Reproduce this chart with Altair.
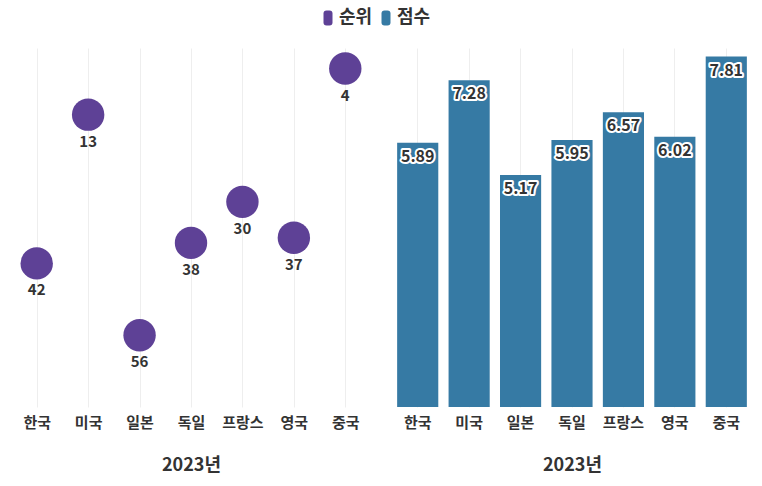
import altair as alt
import pandas as pd

categories = ["한국", "미국", "일본", "독일", "프랑스", "영국", "중국"]
rank = [42, 13, 56, 38, 30, 37, 4]
score = [5.89, 7.28, 5.17, 5.95, 6.57, 6.02, 7.81]

FONT = "Noto Sans CJK KR"
PURPLE = "#5e4196"
BLUE = "#367aa4"

df_rank = pd.DataFrame({"country": categories, "value": rank, "series": "순위"})
df_score = pd.DataFrame({"country": categories, "value": score, "series": "점수"})

RRECT = "M-0.6,-0.6Q-0.6,-1,-0.2,-1L0.2,-1Q0.6,-1,0.6,-0.6L0.6,0.6Q0.6,1,0.2,1L-0.2,1Q-0.6,1,-0.6,0.6Z"

color = alt.Color(
    "series:N",
    scale=alt.Scale(domain=["순위", "점수"], range=[PURPLE, BLUE]),
    legend=alt.Legend(title=None, orient="none", direction="horizontal",
                      legendX=308, legendY=-39,
                      symbolType=RRECT, symbolSize=225, symbolStrokeWidth=0,
                      labelFontSize=18, labelFont=FONT, labelFontWeight="bold",
                      labelColor="#333333", columnPadding=4, labelOffset=2),
)

xenc = alt.X(
    "country:N", sort=categories, title="2023년",
    scale=alt.Scale(paddingInner=0.2, paddingOuter=0.1),
    axis=alt.Axis(labelAngle=0, labelFont=FONT, labelFontSize=15, labelFontWeight="bold",
                  labelColor="#333333", labelPadding=8, ticks=False, domain=False,
                  grid=True, gridColor="#eeeeee", titleFont=FONT, titleFontSize=18,
                  titleFontWeight="bold", titleColor="#333333", titlePadding=26),
)

base_rank = alt.Chart(df_rank).encode(
    x=xenc,
    y=alt.Y("value:Q", scale=alt.Scale(domain=[0, 70], reverse=True), axis=None),
)
points = base_rank.mark_circle(size=1050, opacity=1).encode(color=color)
rank_labels = base_rank.mark_text(dy=27, font=FONT, fontSize=15, fontWeight="bold",
                                  color="#333333", baseline="middle").encode(text="value:Q")
left = alt.layer(points, rank_labels).properties(width=360, height=359)

base_score = alt.Chart(df_score).encode(
    x=xenc,
    y=alt.Y("value:Q", scale=alt.Scale(domain=[0, 8]), axis=None),
)
bars = base_score.mark_bar().encode(color=color)
halo = base_score.mark_text(dy=14, font=FONT, fontSize=16, fontWeight="bold",
                            color="#333333", stroke="white", strokeWidth=4,
                            strokeJoin="round", baseline="middle").encode(
    text=alt.Text("value:Q", format=".2f"))
score_labels = base_score.mark_text(dy=14, font=FONT, fontSize=16, fontWeight="bold",
                                    color="#333333", baseline="middle").encode(
    text=alt.Text("value:Q", format=".2f"))
right = alt.layer(bars, halo, score_labels).properties(width=360, height=359)

chart = alt.hconcat(left, right, spacing=21).properties(
    padding={"left": 11, "top": 9, "right": 0, "bottom": 0}
).configure(font=FONT).configure_view(stroke=None)

chart.save("out.html", embed_options={"renderer": "svg", "actions": False})
